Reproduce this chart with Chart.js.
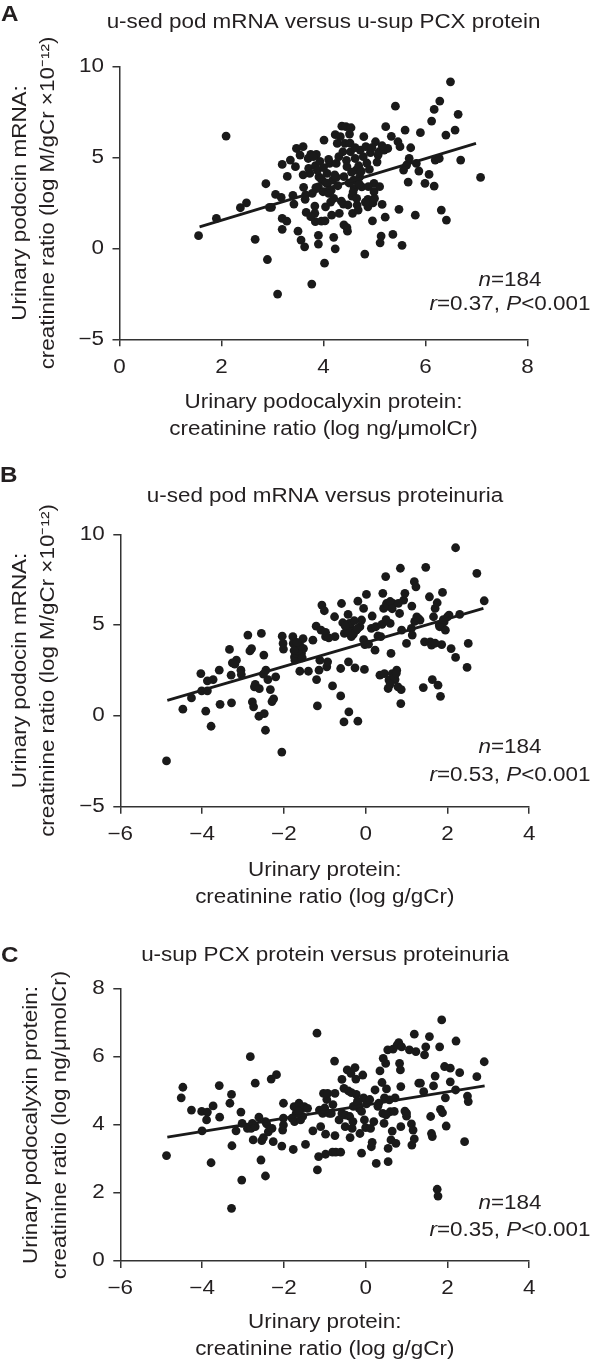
<!DOCTYPE html>
<html>
<head>
<meta charset="utf-8">
<script src="https://cdn.jsdelivr.net/npm/chart.js@4.4.1/dist/chart.umd.min.js"></script>
<style>
html, body { margin: 0; padding: 0; background: #fff; }
#page { position: relative; width: 597px; height: 1364px; overflow: hidden; background: #fff;
  font-family: "Liberation Sans", Arial, Helvetica, sans-serif; color: #231f20; }
#page canvas { position: absolute; left: 0; }
.lbl { position: absolute; font-weight: bold; font-size: 22px; line-height: 24px;
  transform: scaleX(1.1); transform-origin: 0 0; }
.ann { position: absolute; left: 410px; width: 200px; text-align: center; font-size: 19.5px;
  line-height: 24px; white-space: nowrap; transform: scaleX(1.15); transform-origin: 50% 50%; }
</style>
</head>
<body>
<div id="page">
  <canvas id="cA" width="647" height="450" style="top:0px"></canvas>
  <canvas id="cB" width="650" height="462" style="top:450px"></canvas>
  <canvas id="cC" width="650" height="452" style="top:912px"></canvas>
  <div class="lbl" style="left:1px; top:1.6px">A</div>
  <div class="lbl" style="left:0px; top:462.5px">B</div>
  <div class="lbl" style="left:0.5px; top:943px">C</div>
</div>
<script>
// ---------------- DATA ----------------
// Panel A: u-sed pod mRNA (y) vs u-sup PCX protein (x)
const titleA = 'u-sed pod mRNA versus u-sup PCX protein';
const xTitleA = ['Urinary podocalyxin protein:', 'creatinine ratio (log ng/\u03bcmolCr)'];
const yTitleA = ['Urinary podocin mRNA:', 'creatinine ratio (log M/gCr \u00d710\u207b\u00b9\u00b2)'];
const xTicksA = [0, 2, 4, 6, 8];
const yTicksA = [-5, 0, 5, 10];
const xA = [
  1.55,1.90,2.09,2.37,2.49,2.66,2.87,2.90,2.94,2.98,
  3.06,3.10,3.17,3.19,3.19,3.19,3.28,3.29,3.35,3.40,
  3.42,3.47,3.45,3.50,3.54,3.56,3.60,3.61,3.63,3.64,
  3.66,3.71,3.73,3.75,3.77,3.78,3.83,3.83,3.84,3.84,
  3.86,3.90,3.90,3.90,3.91,3.93,3.96,3.97,3.99,4.01,
  4.02,4.03,4.04,4.07,4.08,4.10,4.12,4.14,4.16,4.18,
  4.20,4.23,4.23,4.25,4.25,4.27,4.31,4.33,4.36,4.38,
  4.39,4.40,4.42,4.44,4.46,4.46,4.47,4.48,4.51,4.53,
  4.54,4.56,4.57,4.59,4.60,4.62,4.64,4.66,4.68,4.69,
  4.71,4.72,4.75,4.79,4.81,4.83,4.87,4.87,4.90,4.92,
  4.94,4.96,4.97,4.99,4.99,5.02,5.07,5.09,5.11,5.13,
  5.15,5.19,5.21,5.22,5.26,5.33,5.36,5.41,5.46,5.48,
  5.50,5.54,5.57,5.60,5.63,5.66,5.68,5.71,5.80,5.82,
  5.87,5.90,5.99,6.07,6.12,6.17,6.17,6.19,6.27,6.28,
  6.31,6.40,6.41,6.49,6.58,6.64,6.69,7.08,
  3.70,3.80,3.88,3.95,4.00,4.05,4.10,4.15,4.20,4.22,
  4.28,4.30,4.35,4.40,4.45,4.50,4.52,4.55,4.58,4.62,
  4.65,4.70,4.74,4.78,4.82,4.85,4.88,4.95,5.00,5.05,
  5.10,5.15,3.60,3.65,3.75,3.85
];
const yA = [
  0.70,1.65,6.18,2.24,2.51,0.50,3.56,-0.61,2.26,2.26,
  2.97,-2.51,2.81,4.62,1.65,1.05,1.50,3.96,4.86,2.92,
  2.44,5.50,4.50,0.95,5.14,0.46,5.60,3.36,0.09,2.70,
  1.98,4.40,4.13,5.17,-1.96,3.03,2.33,1.93,1.47,4.55,
  5.17,3.39,0.72,0.24,3.94,4.79,1.50,3.76,3.12,5.96,
  -0.81,1.52,2.29,4.13,3.58,3.03,4.68,2.55,1.83,3.76,
  0.61,-0.02,6.26,3.91,4.68,5.78,1.93,6.15,6.73,5.32,
  2.44,1.30,5.78,6.70,4.50,1.14,0.95,2.39,6.29,5.32,
  6.64,2.88,1.93,3.76,3.30,4.95,4.31,2.39,2.11,4.55,
  3.94,5.41,3.39,6.15,-0.31,5.60,2.70,2.29,4.35,5.27,
  2.57,1.52,2.51,3.58,3.12,5.87,5.14,5.32,0.31,0.68,
  2.42,5.41,1.72,6.70,5.50,6.17,0.77,7.83,5.87,2.15,
  5.60,0.17,4.31,6.51,4.59,3.65,4.95,5.54,1.83,4.68,
  4.26,6.37,3.58,4.07,7.01,3.43,7.65,4.86,4.95,8.11,
  2.11,6.24,1.56,9.17,6.51,7.38,4.86,3.91,
  4.95,5.05,4.30,3.85,4.45,3.60,4.90,3.20,2.75,4.05,
  3.45,5.05,2.60,3.95,4.85,3.60,5.80,4.20,3.10,5.55,
  2.75,3.55,4.25,5.05,2.55,4.70,3.40,5.55,2.75,4.75,
  3.40,5.65,4.05,2.95,1.75,3.35
];
const fitXA = [1.57, 6.99];
const fitYA = [1.19, 5.78];
const statA = { n: '184', r: '0.37', p: '<0.001' };

// Panel B: u-sed pod mRNA (y) vs proteinuria (x)
const titleB = 'u-sed pod mRNA versus proteinuria';
const xTitleB = ['Urinary protein:', 'creatinine ratio (log g/gCr)'];
const yTitleB = ['Urinary podocin mRNA:', 'creatinine ratio (log M/gCr \u00d710\u207b\u00b9\u00b2)'];
const xTicksB = [-6, -4, -2, 0, 2, 4];
const yTicksB = [-5, 0, 5, 10];
const xB = [
  -4.87,-4.47,-4.26,-4.03,-4.01,-3.91,-3.87,-3.87,-3.78,-3.73,
  -3.58,-3.56,-3.33,-3.29,-3.28,-3.26,-3.16,-3.05,-3.04,-2.88,
  -2.83,-2.79,-2.77,-2.74,-2.72,-2.70,-2.61,-2.55,-2.49,-2.48,
  -2.45,-2.44,-2.39,-2.33,-2.29,-2.25,-2.20,-2.05,-2.04,-2.02,
  -2.01,-1.78,-1.77,-1.74,-1.73,-1.70,-1.63,-1.61,-1.57,-1.53,
  -1.52,-1.40,-1.29,-1.21,-1.20,-1.18,-1.14,-1.12,-1.09,-1.07,
  -1.01,-0.98,-0.95,-0.93,-0.81,-0.76,-0.75,-0.61,-0.61,-0.59,
  -0.56,-0.53,-0.52,-0.43,-0.42,-0.41,-0.38,-0.35,-0.32,-0.26,
  -0.23,-0.19,-0.19,-0.14,-0.10,-0.05,-0.03,-0.02,0.02,0.07,
  0.14,0.16,0.23,0.25,0.35,0.37,0.40,0.42,0.44,0.46,
  0.49,0.51,0.55,0.57,0.60,0.62,0.65,0.67,0.72,0.76,
  0.79,0.83,0.85,0.86,0.87,0.88,0.93,0.96,1.00,1.12,
  1.13,1.14,1.19,1.23,1.28,1.33,1.41,1.44,1.47,1.56,
  1.58,1.61,1.63,1.66,1.70,1.75,1.77,1.81,1.83,1.86,
  1.88,1.92,1.95,2.04,2.09,2.20,2.20,2.30,2.48,2.51,
  2.72,2.90,
  -1.65,-1.60,-1.68,-0.30,-0.20,-0.45,-0.40,-0.28,-0.50,0.30,
  0.55,0.60,0.65,0.70,0.60,0.75,0.50,0.80,1.20,1.25,
  1.70,1.80,1.90,2.00,-1.75,-1.55,-0.98,-0.90,-2.60,-2.50,
  -3.20,-0.05
];
const yB = [
  -2.48,0.37,0.99,2.33,1.38,0.26,1.93,1.38,-0.57,2.00,
  2.52,0.64,3.66,2.24,0.72,2.92,3.07,2.52,2.28,4.45,
  3.58,3.71,0.77,0.50,1.60,1.73,-0.02,4.54,3.35,0.13,
  -0.79,2.52,2.00,1.45,0.79,0.94,2.15,-1.99,4.39,3.99,
  3.68,4.36,3.99,3.25,3.07,3.44,3.71,2.46,3.44,4.26,
  3.71,2.46,4.17,4.94,2.00,0.55,2.52,3.07,4.72,6.10,
  5.79,4.36,2.70,2.98,1.65,5.46,4.36,1.10,2.61,6.19,
  5.13,-0.33,4.54,5.59,2.98,0.22,5.00,4.36,4.63,2.65,
  4.72,6.32,-0.29,4.91,5.28,5.92,2.56,3.93,6.69,3.95,
  4.82,5.50,3.62,4.91,2.24,4.36,5.04,6.75,5.92,2.33,
  7.67,6.19,1.51,1.97,5.09,3.44,2.33,6.19,2.00,2.52,
  1.60,5.64,8.13,0.68,1.45,4.72,6.38,6.75,3.99,4.82,
  6.05,4.45,7.39,7.11,5.37,5.28,1.56,4.08,8.18,6.56,
  4.08,3.90,2.00,5.46,5.92,6.23,1.69,4.91,1.08,3.93,
  6.80,5.18,4.72,5.55,3.71,3.22,9.26,5.59,2.67,3.99,
  7.85,6.34,
  3.55,3.85,4.05,4.50,4.80,4.70,5.10,5.25,4.95,4.40,
  6.05,6.30,5.90,2.10,1.75,2.35,5.30,6.20,5.20,5.45,
  4.00,5.00,5.30,5.45,3.60,3.20,4.60,4.30,1.50,2.30,
  2.85,4.20
];
const fitXB = [-4.85, 2.88];
const fitYB = [0.86, 5.92];
const statB = { n: '184', r: '0.53', p: '<0.001' };

// Panel C: u-sup PCX protein (y) vs proteinuria (x)
const titleC = 'u-sup PCX protein versus proteinuria';
const xTitleC = ['Urinary protein:', 'creatinine ratio (log g/gCr)'];
const yTitleC = ['Urinary podocalyxin protein:', 'creatinine ratio (log ng/\u03bcmolCr)'];
const xTicksC = [-6, -4, -2, 0, 2, 4];
const yTicksC = [0, 2, 4, 6, 8];
const xC = [
  -4.87,-4.51,-4.47,-4.26,-4.01,-4.00,-3.89,-3.87,-3.78,-3.73,
  -3.58,-3.57,-3.32,-3.28,-3.27,-3.28,-3.17,-3.05,-3.03,-3.02,
  -2.89,-2.82,-2.80,-2.77,-2.75,-2.70,-2.61,-2.56,-2.54,-2.50,
  -2.45,-2.42,-2.38,-2.31,-2.29,-2.26,-2.18,-2.05,-2.03,-2.01,
  -2.01,-2.01,-1.77,-1.75,-1.74,-1.70,-1.63,-1.59,-1.56,-1.54,
  -1.50,-1.47,-1.42,-1.29,-1.19,-1.18,-1.15,-1.13,-1.10,-1.05,
  -1.03,-0.98,-0.98,-0.95,-0.93,-0.89,-0.84,-0.81,-0.76,-0.75,
  -0.75,-0.73,-0.61,-0.58,-0.58,-0.53,-0.49,-0.45,-0.42,-0.39,
  -0.38,-0.36,-0.33,-0.31,-0.26,-0.24,-0.23,-0.19,-0.16,-0.14,
  -0.10,-0.07,-0.05,-0.03,0.00,0.02,0.12,0.14,0.16,0.23,
  0.26,0.32,0.35,0.40,0.42,0.43,0.46,0.49,0.51,0.54,
  0.55,0.55,0.58,0.60,0.62,0.65,0.67,0.72,0.74,0.77,
  0.81,0.83,0.85,0.86,0.86,0.88,0.96,1.00,1.07,1.12,
  1.13,1.16,1.19,1.19,1.23,1.30,1.34,1.42,1.44,1.47,
  1.56,1.59,1.61,1.63,1.66,1.70,1.75,1.77,1.81,1.83,
  1.86,1.88,1.93,1.95,1.97,2.07,2.07,2.20,2.21,2.30,
  2.42,2.49,2.51,2.72,2.90,
  -0.30,-0.20,-0.10,-0.35,0.20,0.30,0.50,-1.00,-0.80,-1.65,
  -1.80,-2.45,-2.70,0.10,0.70,1.00,-0.50,-0.65,0.45
];
const yC = [
  3.10,4.80,5.11,4.44,4.40,3.83,4.15,4.38,2.89,4.56,
  5.16,4.23,4.64,4.90,3.39,1.55,3.83,4.38,2.38,4.05,
  3.90,6.01,3.90,4.05,3.56,5.23,4.23,2.97,3.54,3.63,
  2.50,4.03,3.80,5.35,3.90,3.51,5.48,3.38,3.85,4.64,
  4.20,4.00,3.28,4.54,4.10,4.34,4.64,4.15,4.49,4.25,
  4.54,3.43,4.49,3.83,6.70,2.68,3.07,4.44,3.95,4.34,
  4.93,3.73,3.14,4.75,4.93,4.34,4.34,3.20,5.88,4.93,
  3.69,3.20,3.20,5.34,4.34,5.08,4.29,5.62,5.00,4.25,
  3.63,5.52,3.90,4.10,5.69,5.35,4.90,4.64,4.49,3.75,
  3.17,5.47,4.80,4.15,3.92,4.62,3.90,3.36,3.49,5.03,
  2.87,4.64,5.59,5.25,4.34,5.96,4.80,5.81,5.06,6.21,
  3.31,2.92,4.74,4.39,3.56,3.82,6.23,4.80,3.46,6.35,
  6.42,5.81,5.62,5.13,3.95,6.30,4.41,4.26,6.21,4.03,
  3.41,3.85,3.59,6.67,6.16,5.23,5.23,4.98,6.06,6.30,
  6.60,4.25,3.75,3.66,5.15,5.44,2.11,1.91,6.30,4.46,
  7.09,4.36,5.72,4.80,3.97,5.67,5.27,5.03,6.47,5.54,
  3.51,4.85,4.69,5.42,5.86,
  4.55,4.70,4.40,4.95,4.10,4.55,4.30,4.50,4.60,4.40,
  4.20,4.10,3.95,4.75,4.40,4.35,3.95,4.15,4.05
];
const fitXC = [-4.85, 2.91];
const fitYC = [3.64, 5.15];
const statC = { n: '184', r: '0.35', p: '<0.001' };

// ---------------- STYLE / LAYOUT ----------------
const S = 1.15;                       // horizontal text stretch of the original typeface
const FONT = '"Liberation Sans", Arial, Helvetica, sans-serif';
const INK = '#231f20';
const AXIS = '#333333';
const DOT = '#1a1a1a';
const FS = 19.5;

Chart.defaults.font.family = FONT;
Chart.defaults.color = INK;

const stretchPlugin = {
  id: 'stretchText',
  beforeInit(chart) {
    const ctx = chart.ctx;
    if (ctx.__stretched) return;
    ctx.__stretched = true;
    const ft = ctx.fillText.bind(ctx);
    const mt = ctx.measureText.bind(ctx);
    ctx.fillText = function (t, x, y, mw) {
      ctx.save();
      ctx.translate(x, y);
      ctx.scale(S, 1);
      if (mw === undefined || mw === null) ft(t, 0, 0); else ft(t, 0, 0, mw / S);
      ctx.restore();
    };
    ctx.measureText = function (t) {
      const m = mt(t);
      return {
        width: m.width * S,
        actualBoundingBoxAscent: m.actualBoundingBoxAscent,
        actualBoundingBoxDescent: m.actualBoundingBoxDescent,
        actualBoundingBoxLeft: m.actualBoundingBoxLeft * S,
        actualBoundingBoxRight: m.actualBoundingBoxRight * S
      };
    };
  }
};

const fmt = v => String(v).replace('-', '\u2212');

function makePanel(id, d, lay) {
  const pts = d.xs.map((x, i) => ({ x: x, y: d.ys[i] }));
  const fit = d.fx.map((x, i) => ({ x: x, y: d.fy[i] }));
  const canvas = document.getElementById(id);
  const yRightW = canvas.width - lay.right;
  return new Chart(canvas, {
    type: 'scatter',
    plugins: [stretchPlugin],
    data: {
      datasets: [
        { data: fit, showLine: true, borderColor: DOT, backgroundColor: DOT, borderWidth: 2.8,
          pointRadius: 0, pointHoverRadius: 0, fill: false, tension: 0 },
        { data: pts, backgroundColor: DOT, borderWidth: 0, pointRadius: 4.4, pointHoverRadius: 4.4 }
      ]
    },
    options: {
      responsive: false,
      animation: false,
      events: [],
      layout: { padding: 0 },
      plugins: {
        legend: { display: false },
        tooltip: { enabled: false },
        title: {
          display: true, text: d.title, color: INK,
          font: { size: FS, weight: 'normal', lineHeight: 1.2 },
          padding: { top: lay.titleTop, bottom: lay.titleBottom }
        }
      },
      scales: {
        x: {
          type: 'linear', position: 'bottom',
          min: d.xTicks[0], max: d.xTicks[d.xTicks.length - 1],
          afterBuildTicks: s => { s.ticks = d.xTicks.map(v => ({ value: v })); },
          afterFit: s => { s.height = lay.xHeight; },
          ticks: { color: INK, font: { size: FS }, padding: lay.xTickPad, maxRotation: 0, minRotation: 0,
                   autoSkip: false, callback: v => fmt(v) },
          grid: { drawOnChartArea: false, drawTicks: true, tickLength: 7, color: AXIS, lineWidth: 1.5 },
          border: { display: true, color: AXIS, width: 1.5 },
          title: { display: true, text: d.xTitle, color: INK, font: { size: FS, lineHeight: 1.4 },
                   padding: { top: 0, bottom: lay.xTitlePad } }
        },
        y: {
          type: 'linear', position: 'left',
          min: d.yTicks[0], max: d.yTicks[d.yTicks.length - 1],
          afterBuildTicks: s => { s.ticks = d.yTicks.map(v => ({ value: v })); },
          afterFit: s => { s.width = lay.left; },
          ticks: { color: INK, font: { size: FS }, padding: 8.5, autoSkip: false, callback: v => fmt(v) },
          grid: { drawOnChartArea: false, drawTicks: true, tickLength: 7, color: AXIS, lineWidth: 1.5 },
          border: { display: true, color: AXIS, width: 1.5 },
          title: { display: true, text: d.yTitle, color: INK, font: { size: FS, lineHeight: 1.46 },
                   padding: { top: lay.yTitlePad, bottom: 0 } }
        },
        y2: {
          type: 'linear', position: 'right', display: true,
          afterFit: s => { s.width = yRightW; },
          ticks: { display: false }, grid: { display: false }, border: { display: false },
          title: { display: false }
        }
      }
    }
  });
}

function addStats(st, top1, top2) {
  const page = document.getElementById('page');
  const a = document.createElement('div');
  a.className = 'ann'; a.style.top = top1 + 'px';
  a.innerHTML = '<i>n</i>=' + st.n;
  const b = document.createElement('div');
  b.className = 'ann'; b.style.top = top2 + 'px';
  b.innerHTML = '<i>r</i>=' + st.r + ', <i>P</i>' + st.p.replace('<', '&lt;');
  page.appendChild(a); page.appendChild(b);
}

makePanel('cA',
  { xs: xA, ys: yA, fx: fitXA, fy: fitYA, title: titleA, xTitle: xTitleA, yTitle: yTitleA, xTicks: xTicksA, yTicks: yTicksA },
  { left: 119.5, right: 527.5, titleTop: 11.3, titleBottom: 32, xHeight: 110.7, xTickPad: 10, xTitlePad: 6.35, yTitlePad: 6.2 });
makePanel('cB',
  { xs: xB, ys: yB, fx: fitXB, fy: fitYB, title: titleB, xTitle: xTitleB, yTitle: yTitleB, xTicks: xTicksB, yTicks: yTicksB },
  { left: 120.3, right: 529.2, titleTop: 35.3, titleBottom: 25.6, xHeight: 105.3, xTickPad: 9.5, xTitlePad: 0.35, yTitlePad: 6.2 });
makePanel('cC',
  { xs: xC, ys: yC, fx: fitXC, fy: fitYC, title: titleC, xTitle: xTitleC, yTitle: yTitleC, xTicks: xTicksC, yTicks: yTicksC },
  { left: 120.3, right: 529.2, titleTop: 32, titleBottom: 21.6, xHeight: 103, xTickPad: 8.6, xTitlePad: 0.35, yTitlePad: 17.6 });

addStats(statA, 267.2, 290.7);
addStats(statB, 733.5, 761.5);
addStats(statC, 1189.9, 1216.9);
</script>
</body>
</html>
